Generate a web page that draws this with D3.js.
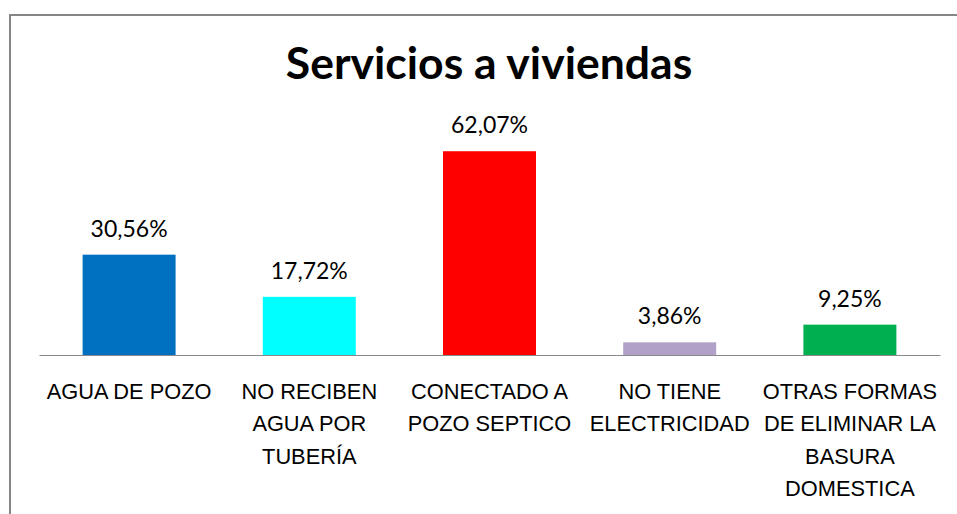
<!DOCTYPE html>
<html>
<head>
<meta charset="utf-8">
<script src="https://cdn.jsdelivr.net/npm/d3@7"></script>
<style>
  body { margin: 0; background: #fff; }
  svg { display: block; font-family: Lato, "Open Sans", sans-serif; }
</style>
</head>
<body>
<div id="chart"></div>
<script>
// Data
const categories = ['AGUA DE POZO', 'NO RECIBEN AGUA POR TUBERÍA', 'CONECTADO A POZO SEPTICO', 'NO TIENE ELECTRICIDAD', 'OTRAS FORMAS DE ELIMINAR LA BASURA DOMESTICA'];
const labelLines = [
  ['AGUA DE POZO'],
  ['NO RECIBEN', 'AGUA POR', 'TUBERÍA'],
  ['CONECTADO A', 'POZO SEPTICO'],
  ['NO TIENE', 'ELECTRICIDAD'],
  ['OTRAS FORMAS', 'DE ELIMINAR LA', 'BASURA', 'DOMESTICA']
];
const values = [30.56, 17.72, 62.07, 3.86, 9.25];
const colors = ['#0070C0', '#00FFFF', '#FF0000', '#B1A0C7', '#00B050'];

const width = 957, height = 514;
const baseY = 355;

const svg = d3.select('#chart').append('svg')
  .attr('width', width)
  .attr('height', height);

// chart frame (runs off the right/bottom edge)
svg.append('rect')
  .attr('x', 10).attr('y', 15)
  .attr('width', 1000).attr('height', 600)
  .attr('fill', '#fff')
  .attr('stroke', '#868686')
  .attr('stroke-width', 2);

// Title
svg.append('text')
  .attr('x', 489).attr('y', 79)
  .attr('text-anchor', 'middle')
  .attr('font-size', 44.5)
  .attr('font-weight', 'bold')
  .attr('fill', '#000')
  .text('Servicios a viviendas');

// Scales
const x = d3.scaleBand()
  .domain(categories)
  .range([39, 940])
  .paddingInner(0.484)
  .paddingOuter(0.242);

const y = d3.scaleLinear()
  .domain([0, 70])
  .range([baseY, baseY - 229.8]);

// Bars
svg.selectAll('.bar')
  .data(values)
  .join('rect')
  .classed('bar', true)
  .attr('x', (d, i) => x(categories[i]))
  .attr('y', d => y(d))
  .attr('width', x.bandwidth())
  .attr('height', d => baseY - y(d))
  .attr('fill', (d, i) => colors[i]);

// Value labels
svg.selectAll('.val')
  .data(values)
  .join('text')
  .classed('val', true)
  .attr('x', (d, i) => x(categories[i]) + x.bandwidth() / 2)
  .attr('y', d => y(d) - 18)
  .attr('text-anchor', 'middle')
  .attr('font-size', 23)
  .attr('fill', '#000')
  .text(d => d.toFixed(2).replace('.', ',') + '%');

// Axis
const axis = svg.append('g')
  .attr('transform', `translate(0,${baseY})`)
  .call(d3.axisBottom(x).tickSize(0).tickSizeOuter(0).tickPadding(0));

axis.select('.domain').attr('stroke', '#898989');
axis.selectAll('.tick text').remove();
axis.selectAll('.tick').each(function(d, i) {
  const t = d3.select(this).append('text')
    .attr('text-anchor', 'middle')
    .attr('font-size', 21.8)
    .attr('fill', '#000');
  labelLines[i].forEach((line, j) => {
    t.append('tspan')
      .attr('x', 0)
      .attr('y', 44 + j * 32.4)
      .text(line);
  });
});
</script>
</body>
</html>
